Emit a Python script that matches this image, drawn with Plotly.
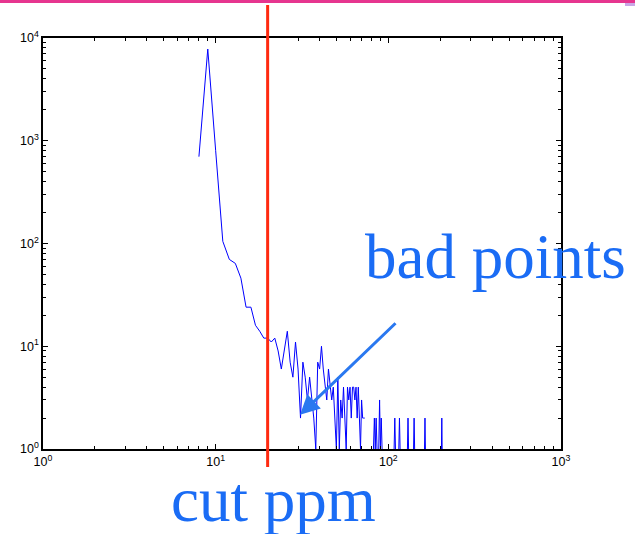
import math
import plotly.graph_objects as go

# ---- data ----
ppm_start = 8
counts = [
    700, 7800,
    800, 105, 70, 64, 46, 24, 24, 16, 14, 12,
    12, 11, 12, 9, 6, 9, 14, 7, 5, 11,
    6, 2, 7, 5, 3, 5, 3, 2, 1, 7,
    6, 10, 6, 4, 3, 6, 4, 3, 4, 2,
    1, 5, 1, 3, 2, 4, 2, 1, 4, 3,
    4, 2, 4, 4, 3, 4, 2, 4, 2, 1,
    3, 2, 2, 2, 0, 0, 0, 0, 0, 0,
    0, 0, 1, 2, 1, 2, 1, 0, 1, 3,
    1, 2, 1, 0, 0, 0, 0, 0, 0, 0,
    0, 0, 0, 0, 0, 0, 0, 0, 1, 2,
    1, 0, 0, 0, 0, 1, 2, 1, 0, 0,
    0, 0, 0, 0, 0, 0, 0, 0, 0, 1,
    2, 1, 0, 0, 0, 0, 0, 0, 0, 0,
    1, 2, 1, 0, 0, 0, 0, 0, 0, 0,
    0, 0, 0, 0, 0, 0, 0, 0, 0, 0,
    0, 0, 1, 2, 1, 0, 0, 0, 0, 0,
    0, 0, 0, 0, 0, 0, 0, 0, 0, 0,
    0, 0, 0, 0, 0, 0, 0, 0, 0, 0,
    0, 0, 0, 0, 0, 0, 0, 0, 0, 0,
    0, 0, 0, 1, 2, 1, 0, 0, 0, 0,
]
ppm = [ppm_start + i for i in range(len(counts))]
cut_ppm = 20
x_tick_vals = [1, 10, 100, 1000]
x_tick_text = ["10<sup>0</sup>", "10<sup>1</sup>", "10<sup>2</sup>", "10<sup>3</sup>"]
y_tick_vals = [1, 10, 100, 1000, 10000]
y_tick_text = ["10<sup>0</sup>", "10<sup>1</sup>", "10<sup>2</sup>", "10<sup>3</sup>", "10<sup>4</sup>"]
arrow_tip = (30.8, 2.15)  # ppm, count

# ---- figure ----
y_plot = [c if c > 0 else None for c in counts]

fig = go.Figure()
fig.add_trace(go.Scatter(
    x=ppm, y=y_plot, mode="lines",
    line=dict(color="#0000ff", width=1),
    connectgaps=False, showlegend=False, hoverinfo="skip",
))

minor_x = [m * 10 ** d for d in range(0, 3) for m in range(2, 10)]
minor_y = [m * 10 ** d for d in range(0, 4) for m in range(2, 10)]

axis_common = dict(
    showline=True, linecolor="black", linewidth=1.5, mirror="ticks",
    ticks="inside", ticklen=5, tickcolor="black", tickwidth=1,
    showgrid=False, zeroline=False,
    tickfont=dict(family="Liberation Sans, Arial", size=12.5, color="black"),
)

fig.update_xaxes(
    type="log", range=[0, 3], tickmode="array",
    tickvals=x_tick_vals, ticktext=x_tick_text,
    minor=dict(tickmode="array", tickvals=minor_x, ticks="inside",
               ticklen=3, tickcolor="black", showgrid=False),
    **axis_common,
)
fig.update_yaxes(
    type="log", range=[0, 4], tickmode="array",
    tickvals=y_tick_vals, ticktext=y_tick_text,
    minor=dict(tickmode="array", tickvals=minor_y, ticks="inside",
               ticklen=3, tickcolor="black", showgrid=False),
    **axis_common,
)

W, H = 635, 534
L, R, T, B = 43, 74, 38, 85
pw, ph = W - L - R, H - T - B

def px_to_paper_x(px):
    return (px - L) / pw

def py_to_paper_y(py):
    return (H - B - py) / ph

# pink slide border at the very top
fig.add_shape(type="line", xref="paper", yref="paper",
              x0=px_to_paper_x(0), x1=px_to_paper_x(W),
              y0=py_to_paper_y(1.5), y1=py_to_paper_y(1.5),
              line=dict(color="#e6358f", width=3))
fig.add_shape(type="rect", xref="paper", yref="paper",
              x0=px_to_paper_x(625), x1=px_to_paper_x(635),
              y0=py_to_paper_y(6), y1=py_to_paper_y(3),
              line=dict(width=0), fillcolor="#c9a6e6")

# red cut line
fig.add_shape(type="line", xref="x", yref="paper",
              x0=cut_ppm, x1=cut_ppm,
              y0=py_to_paper_y(467), y1=py_to_paper_y(5),
              line=dict(color="#ff2a10", width=3))

text_font = dict(family="Liberation Serif, Times New Roman, serif", size=63, color="#1a6cf5")
fig.add_annotation(text="bad points", xref="paper", yref="paper",
                   x=px_to_paper_x(495), y=py_to_paper_y(257),
                   showarrow=False, font=text_font, xanchor="center", yanchor="middle")
fig.add_annotation(text="cut ppm", xref="paper", yref="paper",
                   x=px_to_paper_x(273), y=py_to_paper_y(500),
                   showarrow=False, font=text_font, xanchor="center", yanchor="middle")

# arrow
fig.add_annotation(x=math.log10(arrow_tip[0]), y=math.log10(arrow_tip[1]),
                   xref="x", yref="y", text="", showarrow=True,
                   ax=97, ay=-93, arrowhead=2, arrowsize=1.3, arrowwidth=3,
                   arrowcolor="#2a78f0")

fig.update_layout(
    width=W, height=H,
    margin=dict(l=L, r=R, t=T, b=B),
    paper_bgcolor="white", plot_bgcolor="white",
    showlegend=False,
)

fig.write_html("out.html")
